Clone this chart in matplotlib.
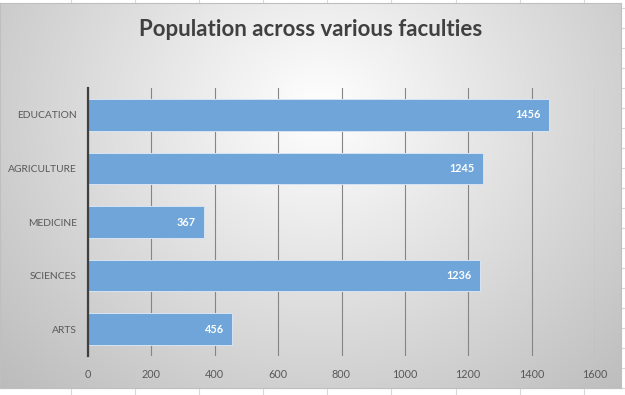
import matplotlib
matplotlib.use("Agg")
import matplotlib.pyplot as plt
import numpy as np
from matplotlib.lines import Line2D

categories = ["ARTS", "SCIENCES", "MEDICINE", "AGRICULTURE", "EDUCATION"]
population = [456, 1236, 367, 1245, 1456]
xticks = [0, 200, 400, 600, 800, 1000, 1200, 1400, 1600]
title = "Population across various faculties"

plt.rcParams['font.family'] = ['Lato', 'DejaVu Sans']

W, H = 625, 395
fig = plt.figure(figsize=(W / 100, H / 100), dpi=100)
fig.patch.set_facecolor("white")

# spreadsheet cell lines peeking out around the chart
for x in [71, 135, 199, 263, 327, 391, 456, 520, 584]:
    fig.add_artist(Line2D([x / W, x / W], [0, 1], color="#d9d9d9", lw=0.8, zorder=0))
for y in [8, 28, 48, 68, 88, 108, 128, 148, 168, 188, 208, 228, 248, 268, 288, 308, 328, 348, 368, 388]:
    fig.add_artist(Line2D([0, 1], [1 - y / H, 1 - y / H], color="#d9d9d9", lw=0.8, zorder=0))

# chart area with radial gradient
x0, x1, y0, y1 = 0, 621, 3, 388
bg = fig.add_axes([x0 / W, 1 - y1 / H, (x1 - x0) / W, (y1 - y0) / H])
gx, gy = np.meshgrid(np.linspace(x0, x1, 300), np.linspace(y0, y1, 200))
d = np.sqrt(((gx - 320) / 420) ** 2 + ((gy - 110) / 380) ** 2)
shade = 1.0 - 0.25 * np.clip(d, 0, 1.2)
bg.imshow(np.dstack([shade] * 3).clip(0, 1), aspect="auto", extent=[0, 1, 0, 1], origin="upper")
bg.set_xticks([])
bg.set_yticks([])
for s in bg.spines.values():
    s.set_color("#bfbfbf")
    s.set_linewidth(0.8)

ax = fig.add_axes([88 / W, 1 - 356 / H, (595 - 88) / W, (356 - 88) / H])
ax.patch.set_alpha(0)
ypos = np.arange(len(categories))
ax.barh(ypos, population, height=0.59, color="#6fa5d9", edgecolor="#d6e4f2", linewidth=0.7, zorder=3)
ax.set_ylim(-0.5, len(categories) - 0.5)
ax.set_xlim(0, 1600)
ax.set_xticks(xticks)
ax.set_xticklabels([str(t) for t in xticks])
ax.set_yticks(ypos)
ax.set_yticklabels(categories)
ax.tick_params(axis="x", length=0, labelsize=7.8, labelcolor="#595959", pad=9)
ax.tick_params(axis="y", length=0, labelsize=7.4, labelcolor="#595959", pad=8)
ax.grid(axis="x", color="#858585", linewidth=0.8, zorder=1)
for k in ["top", "right", "bottom"]:
    ax.spines[k].set_visible(False)
ax.spines["left"].set_color("#404040")
ax.spines["left"].set_linewidth(1.6)
ax.spines["left"].set_zorder(4)

for y, v in zip(ypos, population):
    ax.annotate(str(v), (v, y), xytext=(-6, 0), textcoords="offset points",
                ha="right", va="center", color="white", fontweight="bold", fontsize=7.8, zorder=5)

fig.text(311 / W, 1 - 30 / H, title, ha="center", va="center",
         fontsize=16, fontweight="bold", color="#404040")

fig.savefig("out.png", dpi=100)
